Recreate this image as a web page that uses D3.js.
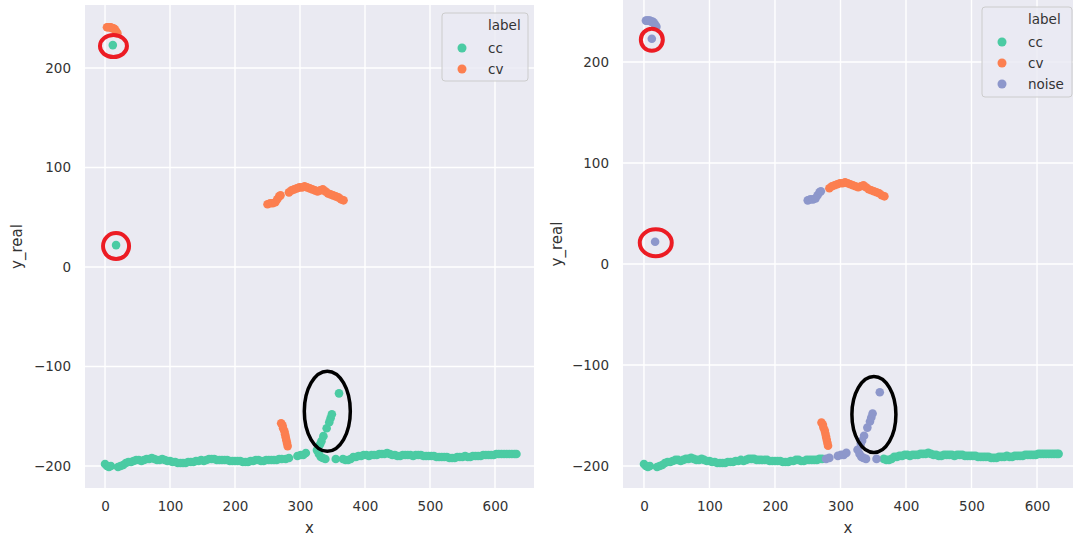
<!DOCTYPE html>
<html>
<head>
<meta charset="utf-8">
<script src="https://cdnjs.cloudflare.com/ajax/libs/d3/7.8.5/d3.min.js"></script>
<style>
  html, body { margin: 0; padding: 0; background: #fff; overflow: hidden; }
  svg text { font-family: "DejaVu Sans", sans-serif; fill: #333; }
</style>
</head>
<body>
<svg id="chart" width="1073" height="537"></svg>
<script>
// ---- data (x, y_real) ----
// long flat run at the bottom, cc in both panels
const baseLeft = [[0,-198],[3,-200],[6,-201],[9,-200],[20,-201],[24,-200],[28,-199],[32,-197],[36,-196],[40,-196],
  [44,-195],[48,-194],[52,-194],[56,-195],[60,-194],[64,-193],[68,-193],[72,-192],[76,-193],[80,-194],
  [84,-194],[88,-193],[92,-194],[96,-195],[100,-195],[104,-196],[108,-196],[112,-197],[116,-197],[120,-197],
  [124,-197],[128,-196],[132,-196],[136,-196],[140,-195],[144,-195],[148,-194],[152,-195],[156,-194],[160,-193],
  [164,-193],[168,-193],[172,-194],[176,-194],[180,-194],[184,-194],[188,-194],[192,-195],[196,-195],[200,-195],
  [204,-195],[208,-195],[212,-196],[216,-196],[220,-196],[224,-195],[228,-195],[232,-194],[236,-194],[240,-195],
  [244,-195],[248,-194],[252,-194],[256,-194],[260,-194],[264,-194],[268,-193],[272,-193]];
const baseRight = [[366,-193],[370,-194],[374,-194],[378,-193],[382,-191],[386,-191],[390,-190],[394,-190],[398,-189],[402,-189],
  [406,-190],[410,-189],[414,-189],[418,-189],[422,-188],[426,-188],[430,-188],[434,-187],[438,-188],[442,-189],
  [446,-189],[450,-190],[454,-190],[458,-189],[462,-189],[466,-189],[470,-189],[474,-190],[478,-189],[482,-189],
  [486,-189],[490,-190],[494,-190],[498,-190],[502,-190],[506,-190],[510,-191],[514,-191],[518,-191],[522,-191],
  [526,-191],[530,-192],[534,-192],[538,-192],[542,-191],[546,-191],[550,-191],[554,-190],[558,-191],[562,-191],
  [566,-190],[570,-190],[574,-190],[578,-190],[582,-189],[586,-189],[590,-189],[594,-189],[598,-189],[602,-188],
  [606,-188],[610,-188],[614,-188],[618,-188],[622,-188],[626,-188],[630,-188],[633,-188]];
// points the second run calls noise
const riseBlob = [[278,-193],[283,-192],[296,-190],[301,-189],[305,-189],[309,-187],[326,-184],[329,-188],[332,-191],
  [335,-192],[339,-193],[355,-193],[331,-178],[333,-175],[336,-170],[341,-162],[345,-156],[347,-152],
  [349,-148],[360,-127]];
const topBlob = [[3,241],[5,241],[7,241],[9,241],[11,240],[13,240],[15,239],[17,237],[19,235]];
const outliers = [[12,223],[17,22]];
const arcHead = [[250,63],[254,64],[258,64],[262,65],[265,68],[268,71],[270,72]];
// cv in both panels
const arc = [[283,75],[287,77],[291,78],[295,79],[299,80],[303,80],[307,81],[311,80],[315,79],[319,78],[323,77],
  [327,76],[331,77],[335,78],[339,76],[343,74],[347,73],[351,72],[355,71],[359,70],[363,68],[367,67]];
const drop = [[271,-157],[273,-159],[274,-162],[276,-165],[277,-168],[278,-171],[279,-174],[280,-177],[281,-180]];

const xTicks = [0, 100, 200, 300, 400, 500, 600];
const yTicks = [-200, -100, 0, 100, 200];
const colors = { cc: '#4bcba3', cv: '#fc7f50', noise: '#8d97cb' };

// which label every group gets in each panel
const groups = [
  { pts: baseLeft, left: 'cc', right: 'cc' },
  { pts: baseRight, left: 'cc', right: 'cc' },
  { pts: riseBlob, left: 'cc', right: 'noise' },
  { pts: topBlob, left: 'cv', right: 'noise' },
  { pts: outliers, left: 'cc', right: 'noise' },
  { pts: arcHead, left: 'cv', right: 'noise' },
  { pts: arc, left: 'cv', right: 'cv' },
  { pts: drop, left: 'cv', right: 'cv' }
];

// hand drawn rings, centred in data units
const redRings = {
  left: [{ x: 13, y: 222, rx: 13.5, ry: 11 }, { x: 17, y: 21, rx: 13, ry: 13 }],
  right: [{ x: 12, y: 222, rx: 11, ry: 11 }, { x: 18, y: 21, rx: 16, ry: 13.5 }]
};
const blackRings = {
  left: [{ x: 342, y: -145, rx: 23, ry: 40 }],
  right: [{ x: 351, y: -149, rx: 22, ry: 38 }]
};

const panels = [
  { key: 'left', l: 85, r: 534, t: 5, b: 488, xd: [-30.8, 660], yd: [-222.1, 263.3], ylabX: 17,
    legend: { x: 442, y: 13, w: 86, h: 68 }, labels: ['cc', 'cv'] },
  { key: 'right', l: 623, r: 1076, t: 0, b: 488, xd: [-32, 659.5], yd: [-221.8, 261.4], ylabX: 557,
    legend: { x: 982, y: 7, w: 90, h: 90 }, labels: ['cc', 'cv', 'noise'] }
];

const svg = d3.select('#chart');

panels.forEach(p => {
  const x = d3.scaleLinear().domain(p.xd).range([p.l, p.r]);
  const y = d3.scaleLinear().domain(p.yd).range([p.b, p.t]);
  const g = svg.append('g');

  g.append('rect')
    .attr('x', p.l).attr('y', p.t)
    .attr('width', p.r - p.l).attr('height', p.b - p.t)
    .attr('fill', '#eaeaf2');

  // grid
  g.selectAll('.vgrid').data(xTicks).enter().append('line')
    .attr('x1', d => x(d)).attr('x2', d => x(d))
    .attr('y1', p.t).attr('y2', p.b)
    .attr('stroke', '#fff').attr('stroke-width', 1.4);
  g.selectAll('.hgrid').data(yTicks).enter().append('line')
    .attr('x1', p.l).attr('x2', p.r)
    .attr('y1', d => y(d)).attr('y2', d => y(d))
    .attr('stroke', '#fff').attr('stroke-width', 1.4);

  // tick labels
  const xAxis = d3.axisBottom(x).tickValues(xTicks).tickSize(0).tickPadding(13).tickFormat(d3.format('d'));
  const ax = g.append('g').attr('transform', 'translate(0,' + p.b + ')').call(xAxis);
  const yAxis = d3.axisLeft(y).tickValues(yTicks).tickSize(0).tickPadding(14)
    .tickFormat(d => d < 0 ? '\u2212' + Math.abs(d) : d);
  const ay = g.append('g').attr('transform', 'translate(' + p.l + ',0)').call(yAxis);
  [ax, ay].forEach(a => {
    a.select('.domain').remove();
    a.selectAll('text').attr('font-size', 13.5).attr('font-family', 'DejaVu Sans').attr('fill', '#333');
  });

  g.append('text')
    .attr('x', (p.l + Math.min(p.r, 1073)) / 2).attr('y', 533)
    .attr('text-anchor', 'middle').attr('font-size', 15)
    .text('x');
  g.append('text')
    .attr('transform', 'translate(' + p.ylabX + ',' + ((p.t + p.b) / 2) + ') rotate(-90)')
    .attr('text-anchor', 'middle').attr('dominant-baseline', 'central').attr('font-size', 15)
    .text('y_real');

  // points
  groups.forEach(gr => {
    g.append('g').selectAll('circle').data(gr.pts).enter().append('circle')
      .attr('cx', d => x(d[0])).attr('cy', d => y(d[1]))
      .attr('r', 4.3)
      .attr('fill', colors[gr[p.key]]);
  });

  // legend
  const lg = g.append('g');
  lg.append('rect')
    .attr('x', p.legend.x).attr('y', p.legend.y)
    .attr('width', p.legend.w).attr('height', p.legend.h)
    .attr('rx', 3)
    .attr('fill', '#eaeaf2').attr('fill-opacity', 0.8)
    .attr('stroke', '#cccccc').attr('stroke-width', 1);
  lg.append('text')
    .attr('x', p.legend.x + 46).attr('y', p.legend.y + 12)
    .attr('dominant-baseline', 'central').attr('font-size', 13.5)
    .text('label');
  p.labels.forEach((lab, i) => {
    const cy = p.legend.y + 35 + i * 21;
    lg.append('circle')
      .attr('cx', p.legend.x + 20).attr('cy', cy).attr('r', 4.5)
      .attr('fill', colors[lab]);
    lg.append('text')
      .attr('x', p.legend.x + 46).attr('y', cy)
      .attr('dominant-baseline', 'central').attr('font-size', 13.5)
      .text(lab);
  });

  // annotations
  g.selectAll('.red').data(redRings[p.key]).enter().append('ellipse')
    .attr('cx', d => x(d.x)).attr('cy', d => y(d.y))
    .attr('rx', d => d.rx).attr('ry', d => d.ry)
    .attr('fill', 'none').attr('stroke', '#ec1c24').attr('stroke-width', 4);
  g.selectAll('.black').data(blackRings[p.key]).enter().append('ellipse')
    .attr('cx', d => x(d.x)).attr('cy', d => y(d.y))
    .attr('rx', d => d.rx).attr('ry', d => d.ry)
    .attr('fill', 'none').attr('stroke', '#000').attr('stroke-width', 3.5);
});
</script>
</body>
</html>
